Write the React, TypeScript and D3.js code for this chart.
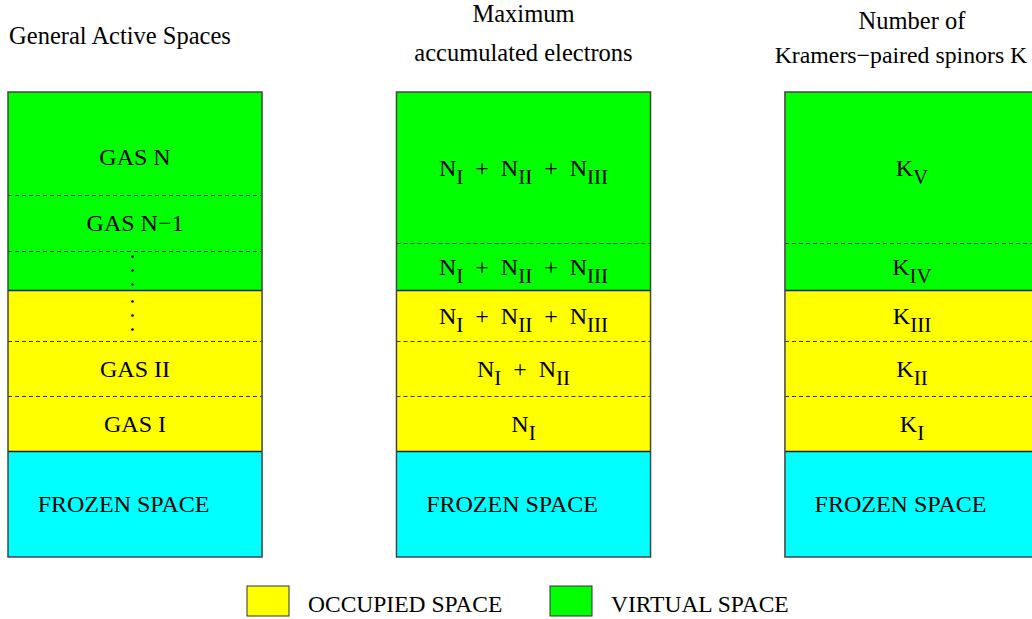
import * as d3 from "d3"

// columns of the diagram
const columnIds = ["gas", "electrons", "kramers"]
const columnTitles = [
  ["General Active Spaces"],
  ["Maximum", "accumulated electrons"],
  ["Number of", "Kramers\u2212paired spinors K"],
]

// layer kinds from bottom to top, with relative heights
const gasKinds = ["frozen", "occupied", "occupied", "occupied", "virtual", "virtual", "virtual"]
const gasHeights = [106, 55, 55, 51, 39, 56, 103]
const gasLabels = ["FROZEN SPACE", "GAS I", "GAS II", "...", "...", "GAS N\u22121", "GAS N"]

const accKinds = ["frozen", "occupied", "occupied", "occupied", "virtual", "virtual"]
const accHeights = [106, 55, 55, 51, 47, 151]
const electronLabels = [
  "FROZEN SPACE",
  "N_I",
  "N_I  +  N_II",
  "N_I  +  N_II  +  N_III",
  "N_I  +  N_II  +  N_III",
  "N_I  +  N_II  +  N_III",
]
const kramersLabels = ["FROZEN SPACE", "K_I", "K_II", "K_III", "K_IV", "K_V"]

const legendKinds = ["occupied", "virtual"]
const legendLabels = ["OCCUPIED SPACE", "VIRTUAL SPACE"]

const kindColor: Record<string, string> = {
  frozen: "#00ffff",
  occupied: "#ffff00",
  virtual: "#00ff00",
}

const FONT = "'Liberation Serif', 'Times New Roman', serif"

function parseLabel(s: string) {
  // "N_I + N_II" -> segments with subscript flags
  return s.split(/(_[IVX]+)/).filter((p) => p.length).map((p) =>
    p.startsWith("_") ? { t: p.slice(1), sub: true } : { t: p, sub: false },
  )
}

function Label({ x, y, text }: { x: number; y: number; text: string }) {
  const segs = parseLabel(text)
  let shift = 0
  return (
    <text
      x={x}
      y={y}
      textAnchor="middle"
      fontFamily={FONT}
      fontSize={24}
      fill="#000"
      style={{ whiteSpace: "pre" }}
    >
      {segs.map((s, i) => {
        const target = s.sub ? 8 : 0
        const dy = target - shift
        shift = target
        return (
          <tspan key={i} dy={dy} fontSize={s.sub ? 21 : 24}>
            {s.t}
          </tspan>
        )
      })}
    </text>
  )
}

export default function App() {
  const width = 1032
  const height = 619

  const x = d3.scaleBand<string>().domain(columnIds).range([8, 1039]).paddingInner(0.346)
  const y = d3.scaleLinear().domain([0, d3.sum(gasHeights)]).range([557, 92])

  const columns = [
    { kinds: gasKinds, heights: gasHeights, labels: gasLabels },
    { kinds: accKinds, heights: accHeights, labels: electronLabels },
    { kinds: accKinds, heights: accHeights, labels: kramersLabels },
  ]

  const legendX = d3.scalePoint<string>().domain(legendKinds).range([247, 550])

  return (
    <svg
      width={width}
      height={height}
      style={{ position: "absolute", left: 0, top: 0, background: "#fff" }}
    >
      {columns.map((col, ci) => {
        const x0 = x(columnIds[ci])!
        const bw = x.bandwidth()
        const cx = x0 + bw / 2
        const tops = d3.cumsum(col.heights)
        const bottoms = tops.map((t, i) => t - col.heights[i])
        const titles = columnTitles[ci]
        return (
          <g key={ci}>
            {titles.map((t, ti) => (
              <text
                key={ti}
                x={ci === 0 ? 120 : ci === 2 && ti === 1 ? cx - 11 : cx}
                y={titles.length === 1 ? 44 : ti === 0 ? (ci === 1 ? 22 : 29) : ci === 1 ? 61 : 63}
                textAnchor="middle"
                fontFamily={FONT}
                fontSize={ci === 2 && ti === 1 ? 23.8 : 24.5}
              >
                {t}
              </text>
            ))}
            {col.kinds.map((k, i) => (
              <rect
                key={"r" + i}
                x={x0}
                y={y(tops[i])}
                width={bw}
                height={y(bottoms[i]) - y(tops[i])}
                fill={kindColor[k]}
              />
            ))}
            {col.kinds.slice(1).map((k, j) => {
              const i = j + 1
              const same = k === col.kinds[i - 1]
              const ly = Math.round(y(bottoms[i])) + 0.5
              return (
                <line
                  key={"l" + i}
                  x1={x0}
                  x2={x0 + bw}
                  y1={ly}
                  y2={ly}
                  stroke={same ? "#333" : "#222"}
                  strokeWidth={same ? 1 : 1.5}
                  strokeDasharray={same ? "4 3" : undefined}
                />
              )
            })}
            <rect
              x={x0}
              y={y(tops[tops.length - 1])}
              width={bw}
              height={y(0) - y(tops[tops.length - 1])}
              fill="none"
              stroke="#444"
              strokeWidth={1.5}
            />
            {col.labels.map((lab, i) => {
              const top = y(tops[i])
              const bot = y(bottoms[i])
              const isTopGas = ci === 0 && i === col.labels.length - 1
              const cy = isTopGas ? top + (bot - top) * 0.63 : (top + bot) / 2
              if (lab === "...") {
                return (
                  <g key={"d" + i}>
                    {[-14, 0, 14].map((o) => (
                      <circle key={o} cx={x0 + bw * 0.49} cy={cy + o} r={1.3} fill="#000" />
                    ))}
                  </g>
                )
              }
              const lx = col.kinds[i] === "frozen" ? x0 + bw * 0.455 : cx
              const ly = col.kinds[i] === "frozen" ? cy + 8 : cy + 8
              return <Label key={"t" + i} x={lx} y={ly} text={lab} />
            })}
          </g>
        )
      })}
      {legendKinds.map((k, i) => {
        const lx = legendX(k)!
        return (
          <g key={k}>
            <rect x={lx} y={586} width={42} height={30} fill={kindColor[k]} stroke="#333" strokeWidth={1} />
            <text x={lx + 61} y={612} fontFamily={FONT} fontSize={23.5}>
              {legendLabels[i]}
            </text>
          </g>
        )
      })}
    </svg>
  )
}
